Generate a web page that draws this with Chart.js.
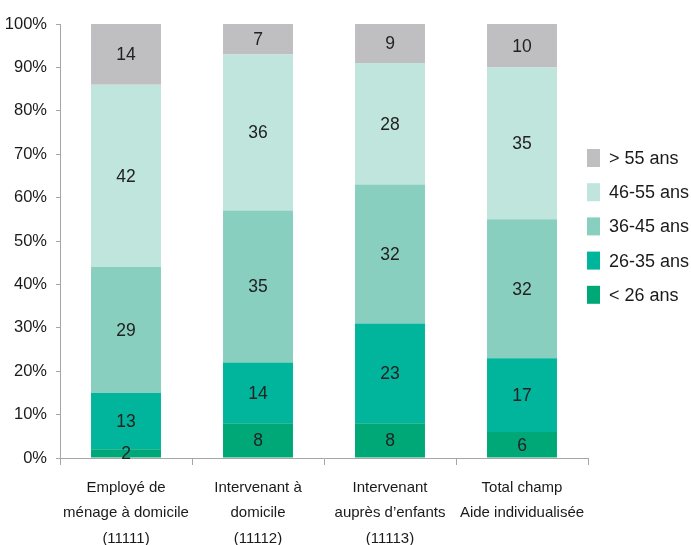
<!DOCTYPE html>
<html>
<head>
<meta charset="utf-8">
<script src="https://cdn.jsdelivr.net/npm/chart.js@4"></script>
<style>
html,body{margin:0;padding:0;background:#fff;}
#wrap{width:691px;height:545px;}
</style>
</head>
<body>
<div id="wrap"><canvas id="c" width="691" height="545"></canvas></div>
<script>
const categories = [
  ["Employé de", "ménage à domicile", "(11111)"],
  ["Intervenant à", "domicile", "(11112)"],
  ["Intervenant", "auprès d’enfants", "(11113)"],
  ["Total champ", "Aide individualisée"]
];
const seriesNames = ["< 26 ans", "26-35 ans", "36-45 ans", "46-55 ans", "> 55 ans"];
const under26 = [2, 8, 8, 6];
const age26to35 = [13, 14, 23, 17];
const age36to45 = [29, 35, 32, 32];
const age46to55 = [42, 36, 28, 35];
const over55 = [14, 7, 9, 10];
const yTicks = [0, 10, 20, 30, 40, 50, 60, 70, 80, 90, 100];

const colors = ["#00a878", "#00b59c", "#88cfc0", "#bfe5dc", "#bfbfc1"];
const seriesValues = [under26, age26to35, age36to45, age46to55, over55];

function hasFont(name) {
  const c = document.createElement('canvas').getContext('2d');
  const s = "abcdefghijklmnopqrstuvwxyz0123456789";
  c.font = "40px monospace";
  const a = c.measureText(s).width;
  c.font = "40px '" + name + "', monospace";
  const b = c.measureText(s).width;
  return Math.abs(a - b) > 0.5;
}
let narrow = null;
for (const f of ['Liberation Sans Narrow', 'Arial Narrow']) { if (hasFont(f)) { narrow = f; break; } }
const FONT = narrow ? "'" + narrow + "', 'Liberation Sans', Arial, sans-serif" : "'Liberation Sans', Arial, sans-serif";
const SZ = narrow
  ? { tick: 19, xlab: 16, val: 19, leg: 20, lh: 1.6 }
  : { tick: 16.5, xlab: 15, val: 17.5, leg: 18, lh: 1.7 };

const valueLabels = {
  id: 'valueLabels',
  afterDatasetsDraw(chart) {
    const ctx = chart.ctx;
    ctx.save();
    ctx.font = SZ.val + "px " + FONT;
    ctx.fillStyle = "#222222";
    ctx.textAlign = "center";
    ctx.textBaseline = "middle";
    chart.data.datasets.forEach((ds, i) => {
      const meta = chart.getDatasetMeta(i);
      meta.data.forEach((el, j) => {
        const y = (el.y + el.base) / 2;
        ctx.fillText(String(ds.data[j]), el.x, y + 1);
      });
    });
    ctx.restore();
  }
};

const sideLegend = {
  id: 'sideLegend',
  afterDraw(chart) {
    const ctx = chart.ctx;
    const ca = chart.chartArea;
    ctx.save();
    ctx.font = SZ.leg + "px " + FONT;
    ctx.textBaseline = "middle";
    ctx.textAlign = "left";
    const n = chart.data.datasets.length;
    const x0 = ca.right - 1;
    const yTop = 158;
    const step = 34.2;
    for (let k = 0; k < n; k++) {
      const ds = chart.data.datasets[n - 1 - k];
      const y = yTop + k * step;
      ctx.fillStyle = ds.backgroundColor;
      ctx.fillRect(x0, y - 9, 13, 18);
      ctx.fillStyle = "#1a1a1a";
      ctx.fillText(ds.label, x0 + 22, y + 1);
    }
    ctx.restore();
  }
};

new Chart(document.getElementById('c'), {
  type: 'bar',
  data: {
    labels: categories,
    datasets: seriesNames.map((name, i) => ({
      label: name,
      data: seriesValues[i],
      backgroundColor: colors[i],
      borderWidth: 0,
      barPercentage: 0.53,
      categoryPercentage: 1.0
    }))
  },
  options: {
    responsive: false,
    animation: false,
    devicePixelRatio: 1,
    layout: { padding: { top: 24, right: 103, left: 0, bottom: 0 } },
    plugins: {
      legend: { display: false },
      tooltip: { enabled: false }
    },
    scales: {
      x: {
        stacked: true,
        offset: true,
        border: { display: true, color: '#a6a6a6', width: 1 },
        grid: { display: true, offset: true, drawOnChartArea: false, drawTicks: true, tickLength: 7, color: '#a6a6a6' },
        ticks: { color: '#1a1a1a', font: { family: FONT, size: SZ.xlab, lineHeight: SZ.lh }, padding: 10, maxRotation: 0, autoSkip: false },
        afterFit(scale) { scale.height = 87; }
      },
      y: {
        stacked: true,
        min: 0, max: 100,
        afterBuildTicks(scale) { scale.ticks = yTicks.map(v => ({ value: v })); },
        border: { display: true, color: '#a6a6a6', width: 1 },
        grid: { display: true, drawOnChartArea: false, drawTicks: true, tickLength: 4, color: '#a6a6a6' },
        ticks: { color: '#1a1a1a', font: { family: FONT, size: SZ.tick }, padding: 9, callback: v => v + '%' },
        afterFit(scale) { scale.width = 60; }
      }
    }
  },
  plugins: [valueLabels, sideLegend]
});
</script>
</body>
</html>
